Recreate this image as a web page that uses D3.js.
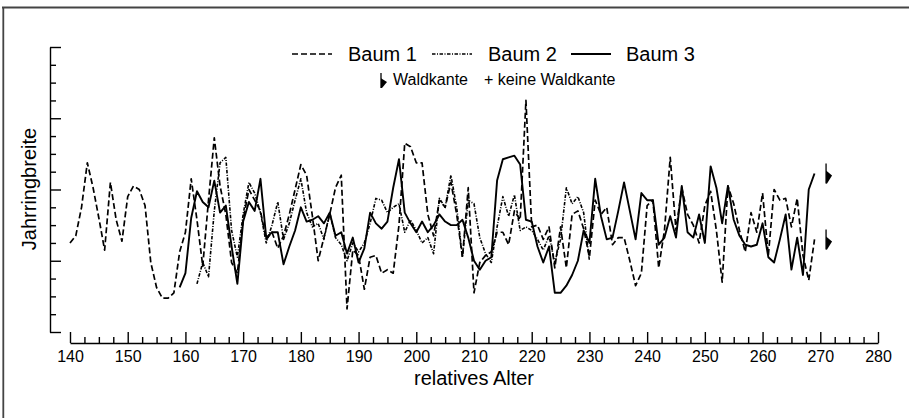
<!DOCTYPE html>
<html>
<head>
<meta charset="utf-8">
<script src="https://cdn.jsdelivr.net/npm/d3@7"></script>
<style>
  html, body { margin: 0; padding: 0; background: #fff; }
  svg { display: block; font-family: "Liberation Sans", Arial, sans-serif; }
</style>
</head>
<body>
<div id="chart"></div>
<script>
// ---------- data ----------
const xTicks = [140, 150, 160, 170, 180, 190, 200, 210, 220, 230, 240, 250, 260, 270, 280];

const baum1Start = 140;
const baum1 = [
  5.0, 5.4, 7.0, 9.5, 8.1, 6.4, 4.6, 8.4, 6.3, 5.1,
  7.6, 8.2, 8.0, 7.1, 3.9, 2.5, 1.9, 1.9, 2.2, 4.5,
  5.6, 8.6, 6.3, 3.7, 7.4, 10.9, 8.2, 6.6, 3.9, 3.3,
  6.3, 8.0, 7.4, 6.8, 5.2, 5.6, 4.7, 5.4, 6.6, 8.0,
  9.4, 8.8, 6.5, 4.0, 5.3, 6.6, 8.1, 8.8, 1.3, 4.6,
  4.3, 2.4, 4.2, 4.3, 3.3, 3.5, 3.3, 6.0, 10.6, 10.4,
  9.5, 9.5, 6.6, 5.4, 7.4, 7.0, 8.4, 6.6, 4.2, 8.1,
  2.2, 3.9, 4.3, 4.5, 5.6, 5.6, 4.9, 6.8, 6.3, 13.0,
  5.9, 6.0, 5.2, 5.9, 3.6, 5.9, 3.6, 6.6, 6.8, 5.8,
  4.2, 7.4, 6.6, 7.0, 4.9, 5.3, 5.3, 4.0, 2.6, 3.3,
  7.1, 7.4, 3.6, 5.7, 9.8, 5.7, 8.1, 6.6, 6.0, 5.0,
  7.1, 7.9, 5.7, 2.8, 8.2, 7.2, 5.7, 4.5, 6.7, 5.6,
  7.8, 4.3, 8.0, 7.4, 7.5, 5.9, 7.5, 4.3, 2.9, 5.2
];

const baum2Start = 162;
const baum2 = [
  2.7, 3.9, 3.1, 6.8, 9.5, 9.8, 5.7, 4.2,
  6.6, 8.4, 7.8, 6.7, 5.0, 6.0, 7.3, 5.2, 6.1, 7.4,
  8.6, 6.7, 5.9, 6.1, 5.2, 6.7, 5.3, 4.9, 4.0, 5.0,
  4.5, 5.0, 6.1, 7.5, 7.4, 6.7, 7.0, 7.2, 5.6, 6.3,
  5.7, 5.0, 5.3, 4.4, 7.5, 7.0, 8.8, 7.0, 4.2, 7.4,
  7.2, 5.3, 4.4, 3.9, 5.9, 7.6, 6.5, 7.7, 5.7, 5.9,
  5.7, 5.2, 4.6, 5.4, 3.9, 5.2, 8.1, 7.2, 7.6, 6.7,
  4.0
];

const baum3Start = 159;
const baum3 = [
  2.5,
  3.3, 6.4, 7.9, 7.3, 7.0, 8.5, 6.7, 7.1, 4.8, 2.7,
  6.2, 7.3, 6.8, 8.6, 5.3, 5.6, 5.6, 3.8, 4.8, 5.7,
  7.0, 6.2, 6.3, 6.5, 6.1, 6.7, 5.4, 5.6, 4.4, 5.3,
  3.9, 4.7, 6.7, 6.1, 5.8, 6.2, 8.1, 9.7, 6.7, 6.1,
  5.6, 6.2, 5.6, 6.0, 6.6, 6.2, 6.0, 6.0, 6.3, 5.3,
  4.0, 3.5, 4.0, 4.2, 8.5, 9.7, 9.8, 9.9, 9.4, 6.3,
  6.2, 4.8, 3.9, 4.8, 2.2, 2.2, 2.6, 3.2, 4.0, 5.7,
  5.0, 8.6, 6.5, 5.2, 5.3, 6.8, 8.4, 6.8, 5.2, 7.8,
  7.4, 7.4, 4.9, 5.3, 6.5, 5.3, 8.2, 5.6, 5.3, 6.6,
  5.0, 9.3, 8.1, 6.1, 8.2, 6.3, 5.4, 4.9, 4.8, 4.9,
  6.1, 4.2, 3.9, 5.2, 6.6, 3.5, 5.3, 3.2, 8.0, 8.9
];

const seriesNames = ["Baum 1", "Baum 2", "Baum 3"];
const waldkanteYear = 271;

// ---------- setup ----------
const width = 909, height = 418;
const svg = d3.select("#chart").append("svg")
  .attr("width", width).attr("height", height);

const x = d3.scaleLinear().domain([140, 280]).range([70, 878]);
const y = d3.scaleLinear().domain([0, 16]).range([332, 47]);

const toPoints = (start, vals) => vals.map((v, i) => ({ year: start + i, v }));
const series = [
  { name: seriesNames[0], pts: toPoints(baum1Start, baum1), dash: "6,3", w: 1.7 },
  { name: seriesNames[1], pts: toPoints(baum2Start, baum2), dash: "3.5,1.5,1,1.5", w: 1.6 },
  { name: seriesNames[2], pts: toPoints(baum3Start, baum3), dash: null, w: 1.9 }
];

// frame (top + left edge only)
svg.append("line").attr("x1", 2).attr("x2", width).attr("y1", 7.5).attr("y2", 7.5)
  .attr("stroke", "#444").attr("stroke-width", 1.8);
svg.append("line").attr("x1", 3.3).attr("x2", 3.3).attr("y1", 7).attr("y2", height)
  .attr("stroke", "#444").attr("stroke-width", 1.8);

// ---------- axes ----------
const minorX = d3.range(140, 280.1, 2.5).filter(d => d % 10 !== 0);
const gx = svg.append("g").attr("transform", "translate(0,343)");
gx.call(d3.axisBottom(x).tickValues(xTicks).tickSizeInner(-11).tickSizeOuter(0).tickPadding(8));
gx.append("g").call(d3.axisBottom(x).tickValues(minorX).tickSizeInner(-6).tickSizeOuter(0).tickFormat(""))
  .select(".domain").remove();
gx.selectAll("text").attr("font-size", 16).attr("fill", "#000")
  .attr("font-family", "'Liberation Sans', Arial, sans-serif");
gx.selectAll("path, line").attr("stroke", "#000").attr("stroke-width", 1.4);

const gy = svg.append("g").attr("transform", "translate(50,0)");
gy.call(d3.axisLeft(y).tickValues(d3.range(0, 17, 4)).tickSizeInner(-11).tickSizeOuter(0).tickFormat(""));
gy.append("g").call(d3.axisLeft(y).tickValues(d3.range(0, 17).filter(d => d % 4 !== 0))
  .tickSizeInner(-6).tickSizeOuter(0).tickFormat(""))
  .select(".domain").remove();
gy.selectAll("path, line").attr("stroke", "#000").attr("stroke-width", 1.4);

svg.append("text").attr("x", 474).attr("y", 385).attr("text-anchor", "middle")
  .attr("font-size", 20).text("relatives Alter");
svg.append("text").attr("transform", "translate(36,189) rotate(-90)")
  .attr("text-anchor", "middle").attr("font-size", 20).text("Jahrringbreite");

// ---------- lines ----------
const line = d3.line().x(d => x(d.year)).y(d => y(d.v));
svg.append("g").selectAll("path").data(series).join("path")
  .attr("d", d => line(d.pts))
  .attr("fill", "none").attr("stroke", "#000")
  .attr("stroke-width", d => d.w)
  .attr("stroke-dasharray", d => d.dash)
  .attr("stroke-linejoin", "round");

// Waldkante markers at end of Baum 1 and Baum 3
function waldkante(g, cx, cy, h) {
  g.append("line").attr("x1", cx).attr("x2", cx).attr("y1", cy - h / 2).attr("y2", cy + h / 2)
    .attr("stroke", "#000").attr("stroke-width", 1.3);
  g.append("path")
    .attr("d", `M${cx},${cy - h * 0.15} L${cx + 6},${cy + h * 0.1} L${cx + 1},${cy + h / 2} L${cx},${cy + h / 2} Z`)
    .attr("fill", "#000");
}
const mk = svg.append("g");
[series[0], series[2]].forEach(s => {
  const last = s.pts[s.pts.length - 1];
  waldkante(mk, x(waldkanteYear), y(last.v), 20);
});

// ---------- legend ----------
const lg = svg.append("g");
const legendItems = [
  { s: series[0], x1: 292, x2: 332, tx: 348 },
  { s: series[1], x1: 432, x2: 472, tx: 488 },
  { s: series[2], x1: 571, x2: 611, tx: 626 }
];
legendItems.forEach(it => {
  lg.append("line").attr("x1", it.x1).attr("x2", it.x2).attr("y1", 54).attr("y2", 54)
    .attr("stroke", "#000").attr("stroke-width", it.s.w).attr("stroke-dasharray", it.s.dash);
  lg.append("text").attr("x", it.tx).attr("y", 61).attr("font-size", 20).text(it.s.name);
});
waldkante(lg, 381, 80.5, 15);
lg.append("text").attr("x", 393).attr("y", 85).attr("font-size", 16).text("Waldkante");
lg.append("text").attr("x", 484).attr("y", 85).attr("font-size", 16).text("+ keine Waldkante");
</script>
</body>
</html>
